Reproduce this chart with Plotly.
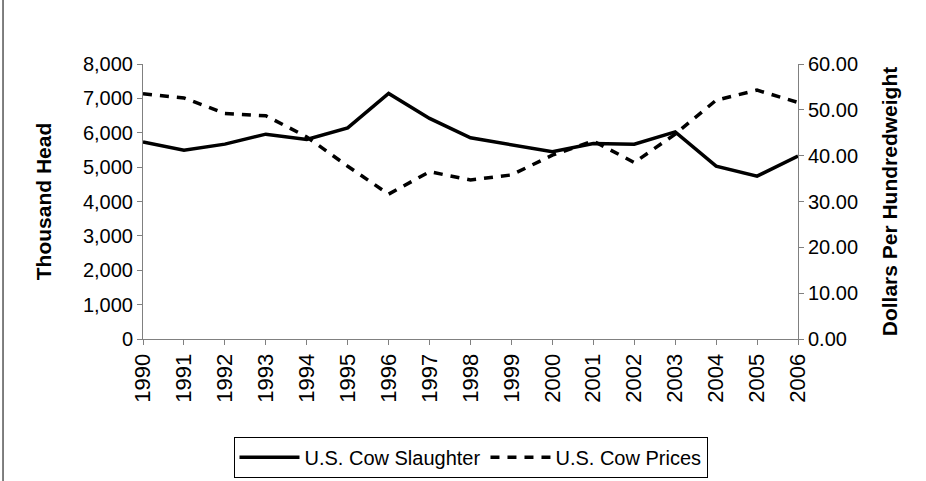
"""
U.S. cow slaughter vs. cow prices, 1990-2006.
"""

import plotly.graph_objects as go

# Data
years = [str(y) for y in range(1990, 2007)]
cow_slaughter = [5735, 5494, 5669, 5959, 5805, 6142, 7142, 6416, 5852,
                 5640, 5445, 5689, 5669, 6026, 5029, 4738, 5320]
cow_prices = [53.5, 52.6, 49.2, 48.7, 44.1, 37.7, 31.6, 36.5, 34.7,
              35.8, 40.1, 43.2, 38.5, 44.7, 52.1, 54.3, 51.6]

left_ticks = list(range(0, 8001, 1000))
left_labels = [f"{v:,}" for v in left_ticks]
right_ticks = list(range(0, 61, 10))
right_labels = [f"{v:.2f}" for v in right_ticks]

FONT = "Liberation Sans, Arial, sans-serif"
AXIS_GREY = "#808080"

fig = go.Figure()

fig.add_trace(go.Scatter(
    x=years, y=cow_slaughter, name="U.S. Cow Slaughter",
    mode="lines", line=dict(color="black", width=3.5),
))
fig.add_trace(go.Scatter(
    x=years, y=cow_prices, name="U.S. Cow Prices", yaxis="y2",
    mode="lines", line=dict(color="black", width=3.5, dash="9px,8px"),
))

axis_common = dict(
    showgrid=False, zeroline=False, showline=True, linecolor=AXIS_GREY,
    linewidth=1, ticks="outside", tickcolor=AXIS_GREY, ticklen=5,
    automargin=False,
)
tick_font = dict(family=FONT, size=20, color="black")
title_font = dict(family=FONT, size=21, color="black")

fig.update_layout(
    width=926, height=481,
    paper_bgcolor="white", plot_bgcolor="white",
    margin=dict(l=143, r=128, t=64, b=142),
    font=dict(family=FONT, color="black"),
    showlegend=True,
    legend=dict(
        orientation="h", x=0.5, xanchor="center",
        yref="container", y=0.092, yanchor="top",
        bordercolor="black", borderwidth=1,
        font=dict(family=FONT, size=20, color="black"),
        itemwidth=60,
    ),
    xaxis=dict(
        **axis_common, type="category", tickangle=-90,
        range=[0, len(years) - 1],
        tickfont=dict(family=FONT, size=22, color="black"),
    ),
    yaxis=dict(
        **axis_common, range=[0, 8000], tickvals=left_ticks,
        ticktext=left_labels, tickfont=tick_font,
        title=dict(text="<b>Thousand Head</b>", font=title_font, standoff=25),
    ),
    yaxis2=dict(
        **axis_common, overlaying="y", side="right", range=[0, 60],
        tickvals=right_ticks, ticktext=right_labels, tickfont=tick_font,
        title=dict(text="<b>Dollars Per Hundredweight</b>", font=title_font,
                   standoff=25),
    ),
    shapes=[dict(
        type="line", xref="paper", yref="paper",
        x0=-0.2137, x1=-0.2137, y0=-1, y1=2,
        line=dict(color="black", width=1),
    )],
)

# drop the browser's default body margin so the figure sits at the page origin
fig.write_html(
    "out.html",
    config={"displayModeBar": False},
    post_script="document.body.style.margin='0';",
)
